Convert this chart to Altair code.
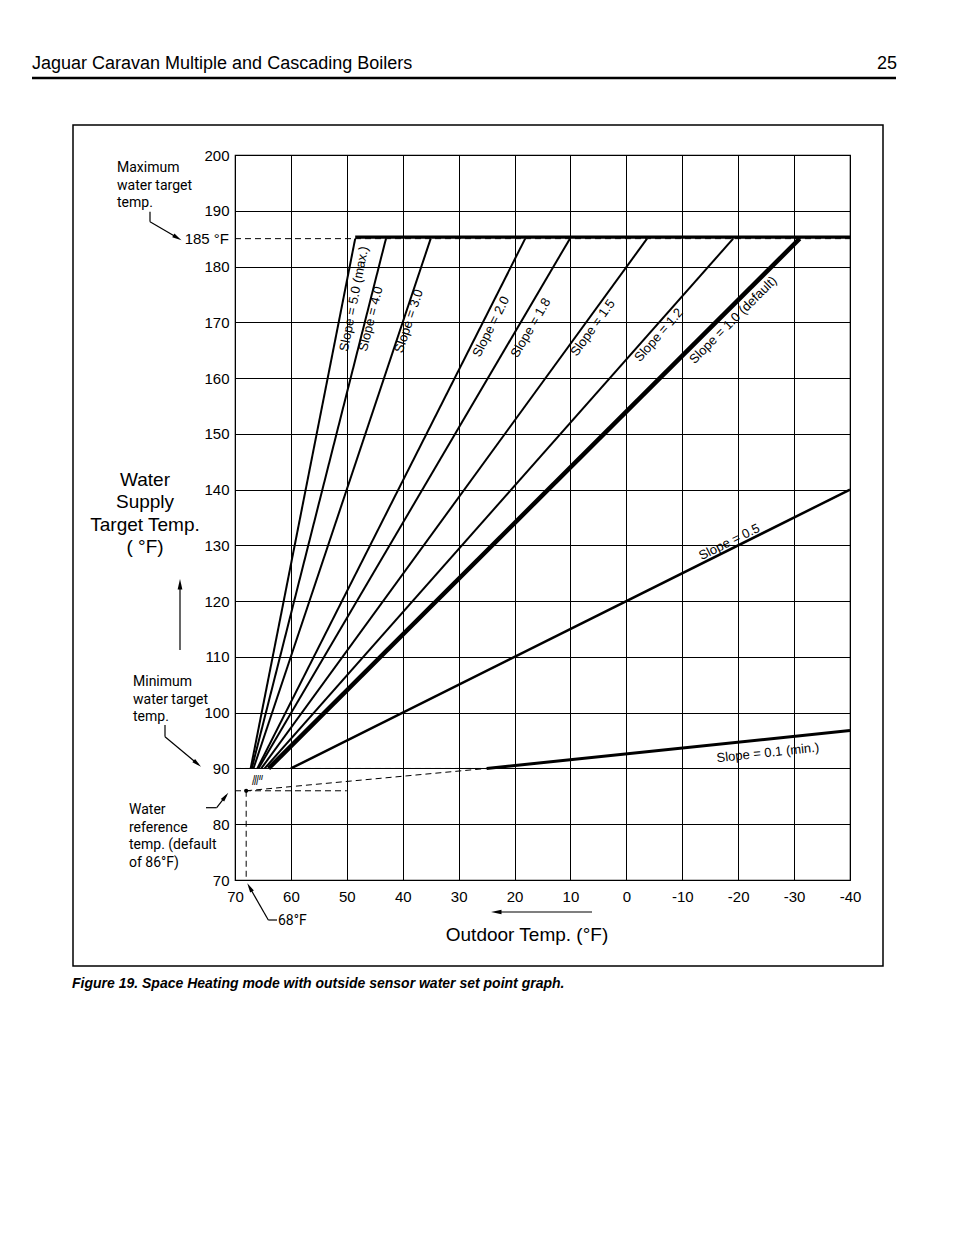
import altair as alt
import pandas as pd

# ---------------- data ----------------
slope_names = ["5.0", "4.0", "3.0", "2.0", "1.8", "1.5", "1.2", "1.0", "0.5", "0.1"]
start_outdoor = [67.2, 67.0, 66.7, 66.0, 65.8, 65.3, 64.7, 64.0, 60.0, 25.0]
start_water = [90, 90, 90, 90, 90, 90, 90, 90, 90, 90]
end_outdoor = [48.5, 43.0, 35.0, 18.1, 10.1, -3.7, -19.1, -31.0, -40.0, -40.0]
end_water = [185, 185, 185, 185, 185, 185, 185, 185, 140, 96.8]
line_width = [2, 2, 2, 2, 2, 2, 2, 4.5, 2.5, 3]

label_text = ["Slope = 5.0 (max.)", "Slope = 4.0", "Slope = 3.0", "Slope = 2.0",
              "Slope = 1.8", "Slope = 1.5", "Slope = 1.2", "Slope = 1.0 (default)",
              "Slope = 0.5", "Slope = 0.1 (min.)"]
label_outdoor = [48.7, 45.7, 38.9, 24.2, 17.1, 6.0, -5.8, -19.1, -18.4, -25.3]
label_water = [174.2, 170.6, 170.2, 169.2, 169.0, 169.0, 167.7, 170.4, 130.6, 92.8]
label_angle = [281, 284, 288.4, 296.7, 300.3, 305.9, 311.3, 315, 333.6, 354]

x_ticks = [70, 60, 50, 40, 30, 20, 10, 0, -10, -20, -30, -40]
y_ticks = [70, 80, 90, 100, 110, 120, 130, 140, 150, 160, 170, 180, 190, 200]

max_water = 185
min_water = 90
ref_outdoor = 68
ref_water = 86
ref_dash_end_outdoor = 50
min_line_start = 25.0

dash_x1 = [70, 70, 70, ref_outdoor, ref_outdoor]
dash_x2 = [-40, min_line_start, ref_dash_end_outdoor, ref_outdoor, min_line_start]
dash_y1 = [max_water, min_water, ref_water, ref_water, ref_water]
dash_y2 = [max_water, min_water, ref_water, 70, min_water]

# ---------------- styles ----------------
SANS = "Liberation Sans, Arial, Helvetica, sans-serif"
NARROW = "Roboto, Liberation Sans, sans-serif"

lines_df = pd.DataFrame({"slope": slope_names, "x1": start_outdoor, "y1": start_water,
                         "x2": end_outdoor, "y2": end_water, "w": line_width})
labels_df = pd.DataFrame({"t": label_text, "x": label_outdoor, "y": label_water, "a": label_angle})
dash_df = pd.DataFrame({"x1": dash_x1, "x2": dash_x2, "y1": dash_y1, "y2": dash_y2})
cap_df = pd.DataFrame({"x1": [end_outdoor[0]], "x2": [-40], "y": [max_water]})
ref_df = pd.DataFrame({"x": [ref_outdoor], "y": [ref_water]})

xs = alt.Scale(domain=[70, -40], nice=False, zero=False)
ys = alt.Scale(domain=[70, 200], nice=False, zero=False)

x_axis = alt.Axis(values=x_ticks, labelExpr="'' + datum.value", grid=True, gridColor="black",
                  gridOpacity=1, gridWidth=1, ticks=False, domain=False, labelFontSize=15,
                  labelFont=SANS, labelColor="black", labelPadding=9, title=None, labelFlush=False)
y_axis = alt.Axis(values=y_ticks, format="d", grid=True, gridColor="black", gridOpacity=1,
                  gridWidth=1, ticks=False, domain=False, labelFontSize=15, labelFont=SANS,
                  labelColor="black", labelPadding=6, title=None, labelFlush=False)

slope_lines = alt.Chart(lines_df).mark_rule(color="black").encode(
    x=alt.X("x1:Q", scale=xs, axis=x_axis),
    x2="x2:Q",
    y=alt.Y("y1:Q", scale=ys, axis=y_axis),
    y2="y2:Q",
    strokeWidth=alt.StrokeWidth("w:Q", scale=None),
)

dashed = alt.Chart(dash_df).mark_rule(color="black", strokeDash=[6, 4], strokeWidth=1).encode(
    x=alt.X("x1:Q", scale=xs), x2="x2:Q", y=alt.Y("y1:Q", scale=ys), y2="y2:Q")

cap = alt.Chart(cap_df).mark_rule(color="black", strokeWidth=3.2, yOffset=-1.5).encode(
    x=alt.X("x1:Q", scale=xs), x2="x2:Q", y=alt.Y("y:Q", scale=ys))

ref_dot = alt.Chart(ref_df).mark_point(filled=True, color="black", size=18, opacity=1).encode(
    x=alt.X("x:Q", scale=xs), y=alt.Y("y:Q", scale=ys))

slope_labels = alt.Chart(labels_df).mark_text(font=SANS, fontSize=13, color="black",
                                              align="center", baseline="middle").encode(
    x=alt.X("x:Q", scale=xs), y=alt.Y("y:Q", scale=ys), text="t:N",
    angle=alt.Angle("a:Q", scale=None))

one = alt.Data(values=[{}])


def txt(x, y, text, size, font=SANS, align="left", weight="normal", style="normal",
        baseline="alphabetic", lh=None):
    kw = dict(font=font, fontSize=size, color="black", align=align, baseline=baseline,
              fontWeight=weight, fontStyle=style, text=text)
    if lh is not None:
        kw["lineHeight"] = lh
    return alt.Chart(one).mark_text(**kw).encode(x=alt.value(x), y=alt.value(y))


def seg(x1, y1, x2, y2, w=1.2):
    return alt.Chart(one).mark_rule(color="black", strokeWidth=w).encode(
        x=alt.value(x1), y=alt.value(y1), x2=alt.value(x2), y2=alt.value(y2))


HEAD = "M0,0L0.45,2L-0.45,2Z"


def head(x, y, ang, size=90):
    return alt.Chart(one).mark_point(shape=HEAD, filled=True, color="black", opacity=1,
                                     size=size, angle=ang, strokeWidth=0).encode(
        x=alt.value(x), y=alt.value(y))


layers = [slope_lines, dashed, cap, ref_dot, slope_labels]

# 185 label on the y axis
layers.append(alt.Chart(one).mark_text(font=SANS, fontSize=15, color="black", align="right",
                                       baseline="middle", text="185 °F").encode(
    x=alt.value(-6), y=alt.datum(max_water)))

# page header, frame and caption
layers += [
    txt(-203, -86, "Jaguar Caravan Multiple and Cascading Boilers", 18),
    txt(662, -86, "25", 18, align="right"),
    seg(-203, -77, 661, -77, w=2.5),
    alt.Chart(one).mark_rect(fillOpacity=0, stroke="black", strokeWidth=1.5).encode(
        x=alt.value(-162), y=alt.value(-30), x2=alt.value(648), y2=alt.value(811)),
    txt(-163, 833, "Figure 19. Space Heating mode with outside sensor water set point graph.",
        14, weight="bold", style="italic"),
]

# axis titles with arrows
layers += [
    txt(-90, 331, ["Water", "Supply", "Target Temp.", "( °F)"], 19, align="center", lh=22.3),
    seg(-55, 432, -55, 495),
    head(-55, 424, 0, 110),
    txt(292, 786, "Outdoor Temp. (°F)", 19, align="center"),
    seg(262, 757, 357, 757),
    head(256, 757, 270, 110),
]

# annotations
layers += [
    txt(-118, 17, ["Maximum", "water target", "temp."], 14, font=NARROW, lh=17.7),
    seg(-85, 56.7, -85, 66.7), seg(-85, 66.7, -58, 82.6),
    head(-53.5, 85.2, 120.4),
    txt(-102, 531, ["Minimum", "water target", "temp."], 14, font=NARROW, lh=17.7),
    seg(-70, 570, -70, 581.7), seg(-70, 581.7, -37, 609.3),
    head(-34, 611.7, 129.9),
    txt(-106, 659, ["Water", "reference", "temp. (default", "of 86°F)"], 14, font=NARROW, lh=17.7),
    seg(-29, 652.7, -18.3, 652.7), seg(-18.3, 652.7, -8.7, 640.3),
    head(-6.7, 637.7, 37.7),
    txt(43, 770, "68°F", 14, font=NARROW),
    seg(33.3, 765, 42, 765), seg(33.3, 765, 14.3, 731.8),
    head(12.3, 728.3, 330.2),
    txt(23, 623, "/////", 7, weight="bold", baseline="middle", align="center"),
    txt(20, 628, "///", 7, weight="bold", baseline="middle", align="center"),
]

chart = alt.layer(*layers).properties(
    width=615, height=725,
    padding={"left": 227, "top": 147, "right": 96, "bottom": 340},
    autosize=alt.AutoSizeParams(type="none"),
    background="white",
).configure_view(stroke="black", strokeWidth=1.2)

chart.save("out.html", embed_options={"renderer": "svg", "actions": False})
